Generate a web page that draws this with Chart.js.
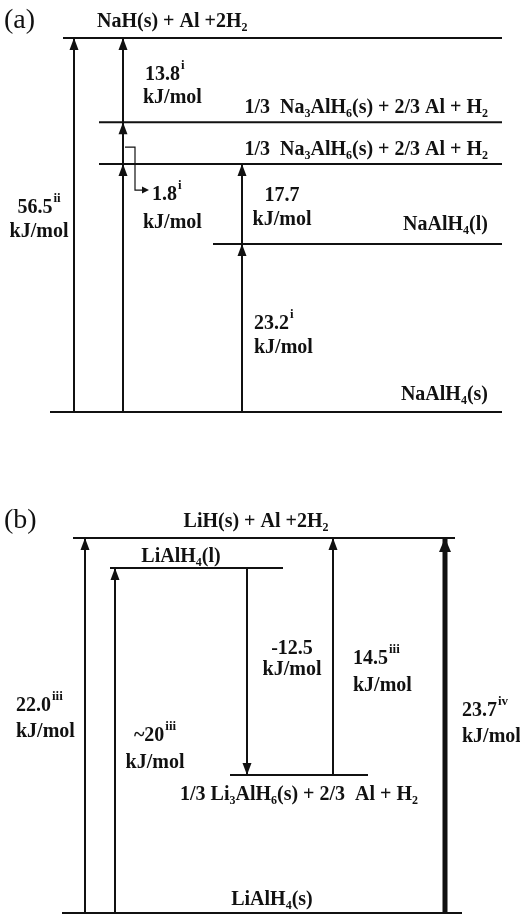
<!DOCTYPE html>
<html>
<head>
<meta charset="utf-8">
<script src="https://cdn.jsdelivr.net/npm/chart.js@4.4.1/dist/chart.umd.min.js"></script>
<style>
  html, body { margin: 0; padding: 0; background: #ffffff; }
  canvas { display: block; }
</style>
</head>
<body>
<canvas id="panelA" width="520" height="458"></canvas>
<canvas id="panelB" width="520" height="458"></canvas>
<script>
// ---------- Panel (a): NaAlH4 decomposition ----------
const naLevelLabels = [
  'NaAlH_{4}(s)',
  'NaAlH_{4}(l)',
  '1/3  Na_{3}AlH_{6}(s) + 2/3 Al + H_{2}',
  '1/3  Na_{3}AlH_{6}(s) + 2/3 Al + H_{2}',
  'NaH(s) + Al +2H_{2}'
];
const naLevelEnergies = [0, 23.2, 40.9, 42.7, 56.5];     // kJ/mol above NaAlH4(s)
const naStepFrom   = [0, 0, 2, 3, 0, 1];                 // level index where each step starts
const naStepTo     = [4, 2, 3, 4, 1, 2];                 // level index where each step ends
const naStepValues = ['56.5', null, '1.8', '13.8', '23.2', '17.7'];
const naStepRefs   = ['ii', null, 'i', 'i', 'i', ''];

// ---------- Panel (b): LiAlH4 decomposition ----------
const liLevelLabels = [
  'LiAlH_{4}(s)',
  '1/3 Li_{3}AlH_{6}(s) + 2/3  Al + H_{2}',
  'LiAlH_{4}(l)',
  'LiH(s) + Al +2H_{2}'
];
const liLevelEnergies = [0, 7.5, 20, 22.0];
const liStepFrom   = [0, 0, 2, 1, 0];
const liStepTo     = [3, 2, 1, 3, 3];
const liStepValues = ['22.0', '~20', '-12.5', '14.5', '23.7'];
const liStepRefs   = ['iii', 'iii', '', 'iii', 'iv'];

// ---------- Drawing layout ----------
const INK = '#111111';
const FONT = '"Liberation Serif", "Times New Roman", serif';

const naLayout = {
  tag: '(a)', tagX: 4, tagY: 28,
  padding: { top: 38, bottom: 46, left: 0, right: 0 },
  // schematic (broken) energy axis: [energy, fraction of axis height]
  breaks: [[0, 0], [23.2, 0.449], [40.9, 0.663], [42.7, 0.775], [56.5, 1]],
  levelSpan: [[50, 502], [213, 502], [99, 502], [99, 502], [63, 502]],
  levelText: [
    { x: 488, dy: -12, align: 'right' },
    { x: 488, dy: -14, align: 'right' },
    { x: 488, dy: -9,  align: 'right' },
    { x: 488, dy: -9,  align: 'right' },
    { x: 97,  dy: -11, align: 'left' }
  ],
  stepX: [74, 123, 123, 123, 242, 242],
  stepWidth: [2, 2, 2, 2, 2, 2],
  stepText: [
    { dx: -35, dy: -12, align: 'center', gap: 24 },
    null,
    { dx: 29, dy: 57, align: 'left', gap: 28, dx2: -9, leader: true },
    { dx: 22, dy: 0,  align: 'left', gap: 23, dx2: -2 },
    { dx: 12, dy: 1,  align: 'left', gap: 24 },
    { dx: 40, dy: -3, align: 'center', gap: 24 }
  ]
};

const liLayout = {
  tag: '(b)', tagX: 4, tagY: 70,
  padding: { top: 80, bottom: 3, left: 0, right: 0 },
  breaks: [[0, 0], [7.5, 0.368], [20, 0.92], [22.0, 1]],
  levelSpan: [[62, 462], [230, 368], [110, 283], [73, 455]],
  levelText: [
    { x: 272, dy: -8,  align: 'center' },
    { x: 299, dy: 25,  align: 'center' },
    { x: 181, dy: -6,  align: 'center' },
    { x: 256, dy: -11, align: 'center' }
  ],
  stepX: [85, 115, 247, 333, 445],
  stepWidth: [2, 2, 2, 2, 5],
  stepText: [
    { dx: -69, dy: -15, align: 'left', gap: 26 },
    { dx: 40,  dy: 0,   align: 'center', gap: 27 },
    { dx: 45,  dy: -18, align: 'center', gap: 21 },
    { dx: 20,  dy: 7,   align: 'left', gap: 27 },
    { dx: 17,  dy: -10, align: 'left', gap: 26 }
  ]
};

// ---------- Schematic energy scale (piecewise linear) ----------
class SchematicScale extends Chart.LinearScale {
  static id = 'schematic';
  static defaults = {};
  toFraction(v) {
    const b = this.options.breaks;
    if (v <= b[0][0]) return b[0][1];
    for (let i = 1; i < b.length; i++) {
      if (v <= b[i][0]) {
        const v0 = b[i - 1][0], f0 = b[i - 1][1], v1 = b[i][0], f1 = b[i][1];
        return f0 + (v - v0) / (v1 - v0) * (f1 - f0);
      }
    }
    return b[b.length - 1][1];
  }
  fromFraction(f) {
    const b = this.options.breaks;
    if (f <= b[0][1]) return b[0][0];
    for (let i = 1; i < b.length; i++) {
      if (f <= b[i][1]) {
        const v0 = b[i - 1][0], f0 = b[i - 1][1], v1 = b[i][0], f1 = b[i][1];
        return v0 + (f - f0) / (f1 - f0) * (v1 - v0);
      }
    }
    return b[b.length - 1][0];
  }
  getPixelForValue(v) {
    if (v === null || v === undefined || isNaN(v)) return NaN;
    return this.getPixelForDecimal(this.toFraction(v));
  }
  getValueForPixel(p) {
    return this.fromFraction(this.getDecimalForPixel(p));
  }
}
Chart.register(SchematicScale);

// ---------- Text with sub/superscripts ----------
function drawRich(ctx, text, x, y, align, size) {
  const subSize = Math.round(size * 0.62);
  const supSize = Math.round(size * 0.65);
  const tokens = [];
  const re = /([_^])\{([^}]*)\}|([^_^]+)/g;
  let m;
  while ((m = re.exec(text))) {
    if (m[3] !== undefined) {
      tokens.push({ t: m[3], font: 'bold ' + size + 'px ' + FONT, dy: 0 });
    } else if (m[1] === '_') {
      tokens.push({ t: m[2], font: 'bold ' + subSize + 'px ' + FONT, dy: Math.round(size * 0.2) });
    } else {
      tokens.push({ t: m[2], font: 'bold ' + supSize + 'px ' + FONT, dy: -Math.round(size * 0.55), pad: 1 });
    }
  }
  let w = 0;
  tokens.forEach(k => { ctx.font = k.font; k.w = ctx.measureText(k.t).width + (k.pad || 0); w += k.w; });
  let cx = align === 'right' ? x - w : align === 'center' ? x - w / 2 : x;
  ctx.textAlign = 'left';
  ctx.textBaseline = 'alphabetic';
  tokens.forEach(k => { ctx.font = k.font; ctx.fillText(k.t, cx + (k.pad || 0), y + k.dy); cx += k.w; });
}

function drawHead(ctx, x, y, dir, len, half) {
  // dir = -1: pointing up (tip at y); dir = 1: pointing down
  ctx.beginPath();
  ctx.moveTo(x, y);
  ctx.lineTo(x - half, y - dir * len);
  ctx.lineTo(x + half, y - dir * len);
  ctx.closePath();
  ctx.fill();
}

function diagramPlugin(spec) {
  return {
    id: 'energyDiagram',
    afterDatasetsDraw(chart) {
      const ctx = chart.ctx;
      const L = spec.layout;
      const nLevels = spec.levelLabels.length;
      const xs = chart.scales.x;
      ctx.save();
      ctx.fillStyle = INK;
      ctx.strokeStyle = INK;

      // panel tag
      ctx.font = '28px ' + FONT;
      ctx.textAlign = 'left';
      ctx.textBaseline = 'alphabetic';
      ctx.fillText(L.tag, L.tagX, L.tagY);

      // level names
      spec.levelLabels.forEach((txt, i) => {
        const p = chart.getDatasetMeta(i).data[0];
        const t = L.levelText[i];
        drawRich(ctx, txt, xs.getPixelForValue(t.x), p.y + t.dy, t.align, 20);
      });

      // arrow heads and step labels
      spec.stepFrom.forEach((f, i) => {
        const pts = chart.getDatasetMeta(nLevels + i).data;
        const a = pts[0], b = pts[1];
        const dir = b.y < a.y ? -1 : 1;
        const thick = L.stepWidth[i] > 3;
        drawHead(ctx, b.x, b.y, dir, thick ? 14 : 12, thick ? 6 : 4.5);

        const t = L.stepText[i];
        const val = spec.stepValues[i];
        if (!t || val === null) return;
        const mid = (a.y + b.y) / 2;
        const ref = spec.stepRefs[i];
        const x1 = a.x + t.dx, y1 = mid + t.dy;
        drawRich(ctx, ref ? val + '^{' + ref + '}' : val, x1, y1, t.align, 20);
        drawRich(ctx, 'kJ/mol', x1 + (t.dx2 || 0), y1 + t.gap, t.align, 20);

        if (t.leader) {
          // bent pointer from the short step to its label
          const yTop = mid + 4, yBot = mid + 47;
          ctx.lineWidth = 1.2;
          ctx.beginPath();
          ctx.moveTo(a.x + 2, yTop);
          ctx.lineTo(a.x + 12, yTop);
          ctx.lineTo(a.x + 12, yBot);
          ctx.lineTo(a.x + 20, yBot);
          ctx.stroke();
          ctx.beginPath();
          ctx.moveTo(a.x + 26, yBot);
          ctx.lineTo(a.x + 19, yBot - 3.5);
          ctx.lineTo(a.x + 19, yBot + 3.5);
          ctx.closePath();
          ctx.fill();
        }
      });
      ctx.restore();
    }
  };
}

function buildPanel(canvasId, spec) {
  const L = spec.layout;
  const datasets = [];
  spec.energies.forEach((e, i) => {
    const span = L.levelSpan[i];
    datasets.push({
      data: [{ x: span[0], y: e }, { x: span[1], y: e }],
      showLine: true, borderColor: INK, borderWidth: 2, pointRadius: 0, clip: 4
    });
  });
  spec.stepFrom.forEach((f, i) => {
    const x = L.stepX[i];
    datasets.push({
      data: [{ x: x, y: spec.energies[f] }, { x: x, y: spec.energies[spec.stepTo[i]] }],
      showLine: true, borderColor: INK, borderWidth: L.stepWidth[i], pointRadius: 0, clip: 4
    });
  });
  const top = spec.energies[spec.energies.length - 1];
  return new Chart(document.getElementById(canvasId), {
    type: 'scatter',
    data: { datasets },
    options: {
      responsive: false,
      animation: false,
      devicePixelRatio: 1,
      events: [],
      layout: { padding: L.padding },
      scales: {
        x: { type: 'linear', min: 0, max: 520, display: false },
        y: { type: 'schematic', min: 0, max: top, display: false, breaks: L.breaks }
      },
      plugins: { legend: { display: false }, tooltip: { enabled: false } }
    },
    plugins: [diagramPlugin(spec)]
  });
}

buildPanel('panelA', {
  levelLabels: naLevelLabels, energies: naLevelEnergies,
  stepFrom: naStepFrom, stepTo: naStepTo, stepValues: naStepValues, stepRefs: naStepRefs,
  layout: naLayout
});
buildPanel('panelB', {
  levelLabels: liLevelLabels, energies: liLevelEnergies,
  stepFrom: liStepFrom, stepTo: liStepTo, stepValues: liStepValues, stepRefs: liStepRefs,
  layout: liLayout
});
</script>
</body>
</html>
